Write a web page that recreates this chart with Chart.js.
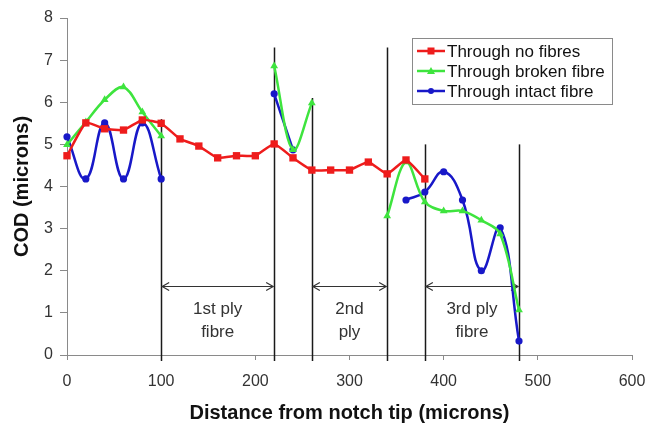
<!DOCTYPE html>
<html>
<head>
<meta charset="utf-8">
<script src="https://cdn.jsdelivr.net/npm/chart.js@4.4.1/dist/chart.umd.min.js"></script>
<style>
    html, body { margin: 0; padding: 0; background: #fff; }
    #wrap { width: 648px; height: 425px; }
</style>
</head>
<body>
<div id="wrap"><canvas id="myChart" width="648" height="425"></canvas></div>
<script>
// distance from notch tip (microns)
const positions = [0, 20, 40, 60, 80, 100, 120, 140, 160, 180, 200, 220, 240, 260, 280, 300, 320, 340, 360, 380, 400, 420, 440, 460, 480];

// COD values (microns), null = no measurement
const noFibres = [4.73, 5.51, 5.37, 5.34, 5.58, 5.5, 5.13, 4.96, 4.68, 4.73, 4.73, 5.01, 4.68, 4.39, 4.39, 4.39, 4.58, 4.3, 4.63, 4.18, null, null, null, null, null];
const brokenFibre = [4.99, 5.53, 6.06, 6.36, 5.77, 5.2, null, null, null, null, null, 6.86, 4.87, 5.98, null, null, null, 3.3, 4.58, 3.63, 3.42, 3.42, 3.2, 2.87, 1.07];
const intactFibre = [5.18, 4.18, 5.51, 4.18, 5.51, 4.18, null, null, null, null, null, 6.2, 4.87, null, null, null, null, null, 3.68, 3.87, 4.35, 3.68, 2.0, 3.02, 0.33];

const seriesNames = ['Through no fibres', 'Through broken fibre', 'Through intact fibre'];

// ply boundary markers
const plyLines = [100, 220, 260, 340, 380, 480];
const plyLineTops = [5.6, 7.3, 6.1, 7.3, 5.0, 5.0];
const plySpans = [[100, 220], [260, 340], [380, 480]];
const plyLabels = [['1st ply', 'fibre'], ['2nd', 'ply'], ['3rd ply', 'fibre']];
const arrowLevel = 1.64;

const xTicks = [0, 100, 200, 300, 400, 500, 600];
const yTicks = [0, 1, 2, 3, 4, 5, 6, 7, 8];

const FONT = "'Liberation Sans', Arial, sans-serif";
const colors = ['#ee1c1c', '#3ee43e', '#1818c8'];
const styles = ['rect', 'triangle', 'circle'];
const radii = [5.2, 4.5, 3.6];
const tensions = [0.15, 0.35, 0.45];

function toPoints(values) {
    return positions.map((x, i) => ({ x: x, y: values[i] }));
}

// ply boundaries, arrows and labels
const plyPlugin = {
    id: 'plyMarks',
    beforeDatasetsDraw(chart) {
        const { ctx, scales: { x, y } } = chart;
        ctx.save();
        ctx.strokeStyle = '#1a1a1a';
        ctx.lineWidth = 1.5;
        plyLines.forEach((p, i) => {
            const px = Math.round(x.getPixelForValue(p)) + 0.5;
            ctx.beginPath();
            ctx.moveTo(px, y.getPixelForValue(plyLineTops[i]));
            ctx.lineTo(px, y.getPixelForValue(0) + 6);
            ctx.stroke();
        });

        ctx.lineWidth = 1.2;
        ctx.strokeStyle = '#333';
        const ay = Math.round(y.getPixelForValue(arrowLevel)) + 0.5;
        plySpans.forEach(([a, b], i) => {
            const x1 = x.getPixelForValue(a) + 1;
            const x2 = x.getPixelForValue(b) - 1;
            ctx.beginPath();
            ctx.moveTo(x1, ay);
            ctx.lineTo(x2, ay);
            ctx.moveTo(x1 + 7, ay - 4);
            ctx.lineTo(x1, ay);
            ctx.lineTo(x1 + 7, ay + 4);
            ctx.moveTo(x2 - 7, ay - 4);
            ctx.lineTo(x2, ay);
            ctx.lineTo(x2 - 7, ay + 4);
            ctx.stroke();

            ctx.fillStyle = '#333';
            ctx.font = '17px ' + FONT;
            ctx.textAlign = 'center';
            ctx.textBaseline = 'middle';
            const cx = x.getPixelForValue((a + b) / 2);
            ctx.fillText(plyLabels[i][0], cx, y.getPixelForValue(1.09));
            ctx.fillText(plyLabels[i][1], cx, y.getPixelForValue(0.55));
        });
        ctx.restore();
    }
};

// boxed legend inside the plot area
const legendPlugin = {
    id: 'boxLegend',
    afterDraw(chart) {
        const { ctx } = chart;
        const bx = 412, by = 38, bw = 200, bh = 66;
        ctx.save();
        ctx.fillStyle = '#fff';
        ctx.fillRect(bx, by, bw, bh);
        ctx.strokeStyle = '#8a8a8a';
        ctx.lineWidth = 1;
        ctx.strokeRect(bx + 0.5, by + 0.5, bw, bh);
        ctx.font = '17px ' + FONT;
        ctx.textBaseline = 'middle';
        ctx.textAlign = 'left';
        seriesNames.forEach((name, i) => {
            const ly = by + 13 + i * 20;
            ctx.strokeStyle = colors[i];
            ctx.lineWidth = 2.5;
            ctx.beginPath();
            ctx.moveTo(bx + 5, ly);
            ctx.lineTo(bx + 33, ly);
            ctx.stroke();
            ctx.fillStyle = colors[i];
            ctx.beginPath();
            if (i === 0) {
                ctx.fillRect(bx + 15.5, ly - 3.5, 7, 7);
            } else if (i === 1) {
                ctx.moveTo(bx + 19, ly - 4);
                ctx.lineTo(bx + 23, ly + 3);
                ctx.lineTo(bx + 15, ly + 3);
                ctx.closePath();
                ctx.fill();
            } else {
                ctx.arc(bx + 19, ly, 3, 0, Math.PI * 2);
                ctx.fill();
            }
            ctx.fillStyle = '#111';
            ctx.fillText(name, bx + 35, ly + 1);
        });
        ctx.restore();
    }
};

const datasets = [noFibres, brokenFibre, intactFibre].map((vals, i) => ({
    label: seriesNames[i],
    data: toPoints(vals),
    borderColor: colors[i],
    backgroundColor: colors[i],
    borderWidth: 2.5,
    pointStyle: styles[i],
    pointRadius: radii[i],
    pointBorderWidth: 0,
    tension: tensions[i],
    spanGaps: false,
    clip: false,
    fill: false
}));

const ctx = document.getElementById('myChart').getContext('2d');
const myChart = new Chart(ctx, {
    type: 'line',
    data: { datasets: datasets },
    options: {
        responsive: false,
        animation: false,
        layout: { padding: { top: 18, right: 16, left: 0, bottom: 0 } },
        plugins: {
            legend: { display: false },
            tooltip: { enabled: false }
        },
        scales: {
            x: {
                type: 'linear',
                min: 0,
                max: 600,
                afterBuildTicks: (scale) => { scale.ticks = xTicks.map(v => ({ value: v })); },
                afterFit: (scale) => { scale.height = 70; scale.paddingRight = 0; scale.paddingLeft = 0; },
                border: { color: '#8a8a8a', width: 1 },
                grid: { drawOnChartArea: false, drawTicks: true, tickLength: 5, color: '#8a8a8a' },
                ticks: { color: '#333', padding: 12, maxRotation: 0, font: { family: FONT, size: 16 } },
                title: {
                    display: true,
                    text: 'Distance from notch tip (microns)',
                    color: '#111',
                    padding: { top: 2, bottom: 0 },
                    font: { family: FONT, size: 20, weight: 'bold' }
                }
            },
            y: {
                min: 0,
                max: 8,
                afterBuildTicks: (scale) => { scale.ticks = yTicks.map(v => ({ value: v })); },
                afterFit: (scale) => { scale.width = 67; scale.paddingTop = 0; scale.paddingBottom = 0; },
                border: { color: '#8a8a8a', width: 1 },
                grid: { drawOnChartArea: false, drawTicks: true, tickLength: 7, color: '#8a8a8a' },
                ticks: { color: '#333', padding: 7, font: { family: FONT, size: 16 } },
                title: {
                    display: true,
                    text: 'COD (microns)',
                    color: '#111',
                    padding: { top: 10, bottom: 0 },
                    font: { family: FONT, size: 20, weight: 'bold' }
                }
            }
        }
    },
    plugins: [plyPlugin, legendPlugin]
});
</script>
</body>
</html>
